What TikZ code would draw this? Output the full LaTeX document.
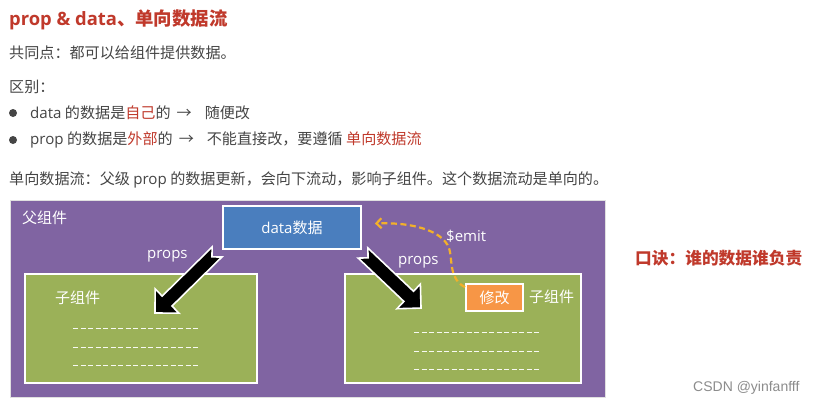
\documentclass[tikz,border=0pt]{standalone}
\usepackage{fontspec}
\setmainfont{Noto Sans CJK SC}
\newfontfamily\lat{Open Sans}
\newfontfamily\wmfont{Liberation Sans}
\usetikzlibrary{arrows.meta,calc}
\definecolor{txt}{HTML}{454545}
\definecolor{hred}{HTML}{C0392B}
\definecolor{ppl}{HTML}{8064A2}
\definecolor{dblue}{HTML}{4A7EBE}
\definecolor{cgreen}{HTML}{9BB158}
\definecolor{forange}{HTML}{F79646}
\definecolor{emitc}{HTML}{F2B02A}
\begin{document}
\begin{tikzpicture}[x=1pt,y=-1pt,
  body/.style={anchor=west, inner sep=0, text=txt, font=\fontsize{15.1}{17}\selectfont},
  boxw/.style={draw=white, line width=1.8, inner sep=0},
  lbl/.style={text=white, inner sep=0, font=\fontsize{15}{17}\selectfont},
  bigarrow/.style={fill=black, draw=white, line width=1.6, line join=miter},
  emit/.style={draw=emitc, line width=2.2, dash pattern=on 6pt off 3.5pt, -{Straight Barb[length=5pt,width=10pt]}},
  dline/.style={draw=white!92!cgreen, line width=0.8, dash pattern=on 5pt off 2.5pt}]
\useasboundingbox (0,0) rectangle (816,405);
\fill[white] (0,0) rectangle (816,405);

% header text
\node[anchor=west, inner sep=0, text=hred, font=\fontsize{18.4}{21}\selectfont\bfseries] (title) at (9,20) {{\lat\bfseries prop \& data}、单向数据流};
\node[body] (same) at (9,53) {共同点：都可以给组件提供数据。};
\node[body] (diff) at (9,87) {区别：};
\fill[txt] (13,113) circle (4);
\node[body] (b1) at (30,113) {{\lat data} 的数据是\textcolor{hred}{自己}的\hspace{6pt}→\hspace{13pt}随便改};
\fill[txt] (13,140) circle (4);
\node[body] (b2) at (30,140) {{\lat prop} 的数据是\textcolor{hred}{外部}的\hspace{6pt}→\hspace{13pt}不能直接改，要遵循 \textcolor{hred}{单向数据流}};
\node[body] (flow) at (9,180) {单向数据流：父级 {\lat prop} 的数据更新，会向下流动，影响子组件。这个数据流动是单向的。};

% diagram
\node[draw=black!12, line width=1, fill=ppl, minimum width=595, minimum height=197, inner sep=0] (parent) at (307.5,298.5) {};
\node[boxw, fill=dblue, minimum width=138, minimum height=43] (data) at (292,227.5) {};
\node[boxw, fill=cgreen, minimum width=232, minimum height=109] (lchild) at (141,328.5) {};
\node[boxw, fill=cgreen, minimum width=236, minimum height=109] (rchild) at (463,328.5) {};
\node[boxw, fill=forange, minimum width=57, minimum height=27] (fix) at (494.5,297.5) {};

\node[lbl] at (data.center) {{\lat data}数据};
\node[lbl] at (fix.center) {修改};
\node[lbl, anchor=west] (plabel) at (22,218) {父组件};
\node[lbl, anchor=west] (llabel) at (55,298) {子组件};
\node[lbl, anchor=west] (rlabel) at (529,297) {子组件};
\node[lbl, anchor=west, font=\lat\fontsize{15}{17}\selectfont] (lprops) at (147,256) {props};
\node[lbl, anchor=west, font=\lat\fontsize{15}{17}\selectfont] (rprops) at (398,262) {props};
\node[lbl, anchor=west, font=\lat\fontsize{15}{17}\selectfont] (emitlbl) at (446,236) {\$emit};

% dashed lines in children
\foreach \y in {328,347,365} \draw[dline] (73,\y) -- (198,\y);
\foreach \y in {332,351,369} \draw[dline] (414,\y) -- (539,\y);

% big arrows
\coordinate (la) at (217,252);
\coordinate (ra) at (363,253);
\begin{scope}[shift={(la)}, rotate=224.5]
\filldraw[bigarrow] (0,-7) -- (70,-7) -- (70,-17) -- (87,0) -- (70,17) -- (70,7) -- (0,7) -- (7,0) -- cycle;
\end{scope}
\begin{scope}[shift={(ra)}, rotate=-43.5]
\filldraw[bigarrow] (0,-7) -- (63,-7) -- (63,-17) -- (80,0) -- (63,17) -- (63,7) -- (0,7) -- (7,0) -- cycle;
\end{scope}

% emit curve
\draw[emit] ($(fix.north west)+(0,4)$) .. controls (450,280) and (452,262) .. (450,252) .. controls (447,232) and (415,222) .. ($(data.east)+(13,-4)$);

% right note
\node[anchor=west, inner sep=0, text=hred, font=\fontsize{16.7}{19}\selectfont\bfseries] (note) at (635,258) {口诀：谁的数据谁负责};
\node[anchor=west, inner sep=0, text=black!45, font=\wmfont\fontsize{14}{16}\selectfont] (wm) at (693,388) {CSDN @yinfanfff};
\end{tikzpicture}
\end{document}
